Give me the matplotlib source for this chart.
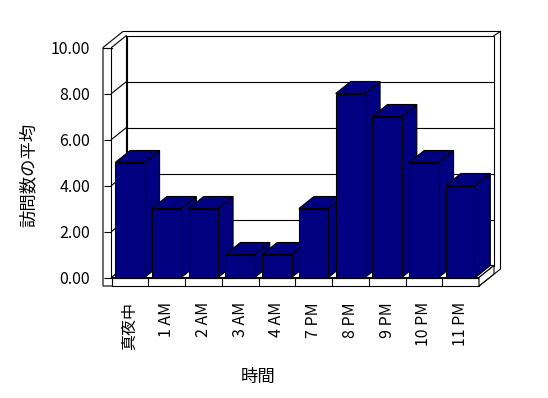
import matplotlib
matplotlib.use("Agg")
import matplotlib.pyplot as plt
from matplotlib.patches import Polygon

plt.rcParams['font.family'] = ['Noto Sans CJK JP', 'DejaVu Sans']

categories = ['真夜中', '1 AM', '2 AM', '3 AM', '4 AM', '7 PM', '8 PM', '9 PM', '10 PM', '11 PM']
values = [5, 3, 3, 1, 1, 3, 8, 7, 5, 4]
y_ticks = [0, 2, 4, 6, 8, 10]
y_label = '訪問数の平均'
x_label = '時間'

W, H = 548, 398
fig = plt.figure(figsize=(W / 100, H / 100), dpi=100)
fig.patch.set_facecolor('white')

# axes placement in pixels (front plane of the 3D box)
left_px, right_px = 111.5, 479.0
top_px, bot_px = 47.5, 277.5
ax = fig.add_axes([left_px / W, (H - bot_px) / H,
                   (right_px - left_px) / W, (bot_px - top_px) / H])
n = len(categories)
ax.set_xlim(-0.5, n - 0.5)
ax.set_ylim(0, 10)
ax.patch.set_visible(False)
for s in ax.spines.values():
    s.set_visible(False)

sx = (right_px - left_px) / n          # px per category
sy = (bot_px - top_px) / 10.0          # px per value unit
DX, DY = 15 / sx, 12 / sy              # depth offset in data units
x0, x1 = -0.5, n - 0.5
ytop = y_ticks[-1]

lw = 0.8
EC = 'black'
BAR = '#000080'

def poly(pts, fc='white', z=1, ec=EC):
    p = Polygon(pts, closed=True, facecolor=fc, edgecolor=ec, lw=lw,
                zorder=z, clip_on=False, joinstyle='miter')
    ax.add_patch(p)

def line(xs, ys, z=3):
    ax.plot(xs, ys, color=EC, lw=lw, zorder=z, clip_on=False,
            solid_capstyle='projecting')

# outer outline (wall thickness)
fb = -8.5 / sy
outer = [(x0 - 8.5 / sx, fb), (x0 - 8.5 / sx, ytop),
         (x0 + 11.5 / sx, ytop + 16 / sy),
         (x1 + DX + 6.5 / sx, ytop + 16 / sy),
         (x1 + DX + 6.5 / sx, 8.5 / sy),
         (x1, fb)]
poly(outer, z=1)

# back wall
poly([(x0 + DX, DY), (x1 + DX, DY), (x1 + DX, ytop + DY), (x0 + DX, ytop + DY)], z=2)
# left wall
poly([(x0, 0), (x0 + DX, DY), (x0 + DX, ytop + DY), (x0, ytop)], z=2)
# top-left and top-right connectors
line([x0 - 8.5 / sx, x0], [ytop, ytop])
line([x1 + DX, x1 + DX + 6.5 / sx], [ytop + DY, ytop + 16 / sy])

# gridlines on back and left walls
for v in y_ticks[:-1]:
    line([x0 + DX, x1 + DX], [v + DY, v + DY], z=3)
    line([x0, x0 + DX], [v, v + DY], z=3)

# floor
poly([(x0, 0), (x1, 0), (x1 + DX, DY), (x0 + DX, DY)], z=4)
poly([(x0, fb), (x1, fb), (x1, 0), (x0, 0)], z=4)
poly([(x1, fb), (x1 + DX, fb + DY), (x1 + DX, DY), (x1, 0)], z=4)
for i in range(1, n):
    line([i - 0.5, i - 0.5], [fb, 0], z=5)

# bars
w = 0.8
xs = list(range(n))
for i, (x, v) in enumerate(zip(xs, values)):
    z = 10 + i
    xl, xr = x - w / 2, x + w / 2
    poly([(xr, 0), (xr + DX, DY), (xr + DX, v + DY), (xr, v)], fc=BAR, z=z)
    poly([(xl, v), (xr, v), (xr + DX, v + DY), (xl + DX, v + DY)], fc=BAR, z=z)
    ax.bar([x], [v], width=w, color=BAR, edgecolor=EC, lw=lw, zorder=z,
           clip_on=False)

# ticks and labels
ax.set_yticks(y_ticks)
ax.set_yticklabels([f"{v:.2f}" for v in y_ticks])
ax.tick_params(axis='y', direction='out', length=8.5 * 0.72, width=lw,
               pad=13 * 0.72, labelsize=11.5, colors='black')
ax.set_xticks(xs)
ax.set_xticklabels(categories, rotation=90)
ax.tick_params(axis='x', length=0, pad=24.5 * 0.72, labelsize=11.5)

fig.text(28.5 / W, 1 - 175 / H, y_label, rotation=90, ha='center', va='center',
         fontsize=12.5)
fig.text(258.5 / W, 1 - 377 / H, x_label, ha='center', va='center', fontsize=12.5)

fig.savefig('out.png', dpi=100, facecolor='white')
